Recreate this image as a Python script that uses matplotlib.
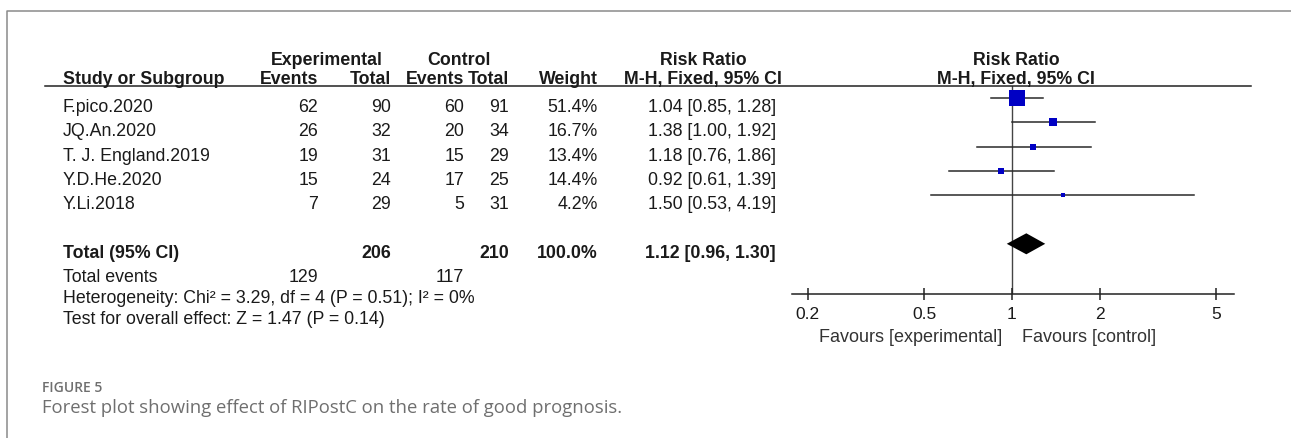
import matplotlib
matplotlib.use("Agg")
import matplotlib.pyplot as plt
from matplotlib.lines import Line2D

plt.rcParams['font.family'] = ['Liberation Sans', 'DejaVu Sans']

studies = ["F.pico.2020", "JQ.An.2020", "T. J. England.2019", "Y.D.He.2020", "Y.Li.2018"]
exp_events = [62, 26, 19, 15, 7]
exp_total = [90, 32, 31, 24, 29]
ctl_events = [60, 20, 15, 17, 5]
ctl_total = [91, 34, 29, 25, 31]
weights = [51.4, 16.7, 13.4, 14.4, 4.2]
rr = [1.04, 1.38, 1.18, 0.92, 1.50]
ci_low = [0.85, 1.00, 0.76, 0.61, 0.53]
ci_high = [1.28, 1.92, 1.86, 1.39, 4.19]

total_exp, total_ctl, total_weight = 206, 210, 100.0
total_rr, total_low, total_high = 1.12, 0.96, 1.30
events_exp, events_ctl = 129, 117
heterogeneity = "Heterogeneity: Chi² = 3.29, df = 4 (P = 0.51); I² = 0%"
overall = "Test for overall effect: Z = 1.47 (P = 0.14)"

xticks = [0.2, 0.5, 1, 2, 5]
xtick_labels = ["0.2", "0.5", "1", "2", "5"]

W, H = 1291, 438
fig = plt.figure(figsize=(W / 100, H / 100), dpi=100)
fig.patch.set_facecolor("white")

def fx(x):
    return x / W

def fy(y):
    return 1 - y / H

def txt(x, y, s, ha="left", bold=False, **kw):
    fig.text(fx(x), fy(y), s, ha=ha, va="baseline", fontsize=12.8,
             fontweight="bold" if bold else "normal", color="#1a1a1a", **kw)

# card border
fig.add_artist(Line2D([fx(7), fx(7), fx(W)], [fy(H), fy(11), fy(11)],
                      color="#8a8a8a", lw=1.1))

# column right edges (pixels)
c_study = 63
c_ee, c_et, c_ce, c_ct, c_w, c_rr = 318, 391, 464, 509, 598, 776
c_plot = 1016

row0, row_h = 98, 24.3
text_off = 14

# headers
txt((262 + 391) / 2, 65, "Experimental", ha="center", bold=True)
txt((408 + 509) / 2, 65, "Control", ha="center", bold=True)
txt(703, 65, "Risk Ratio", ha="center", bold=True)
txt(c_plot, 65, "Risk Ratio", ha="center", bold=True)
txt(c_study, 84, "Study or Subgroup", bold=True)
txt(c_ee, 84, "Events", ha="right", bold=True)
txt(c_et, 84, "Total", ha="right", bold=True)
txt(c_ce, 84, "Events", ha="right", bold=True)
txt(c_ct, 84, "Total", ha="right", bold=True)
txt(c_w, 84, "Weight", ha="right", bold=True)
txt(703, 84, "M-H, Fixed, 95% CI", ha="center", bold=True)
txt(c_plot, 84, "M-H, Fixed, 95% CI", ha="center", bold=True)
fig.add_artist(Line2D([fx(45), fx(1251)], [fy(86), fy(86)], color="#222222", lw=1.1))

# study rows
for i, name in enumerate(studies):
    yb = row0 + row_h * i + text_off
    txt(c_study, yb, name)
    txt(c_ee, yb, str(exp_events[i]), ha="right")
    txt(c_et, yb, str(exp_total[i]), ha="right")
    txt(c_ce, yb, str(ctl_events[i]), ha="right")
    txt(c_ct, yb, str(ctl_total[i]), ha="right")
    txt(c_w, yb, f"{weights[i]:.1f}%", ha="right")
    txt(c_rr, yb, f"{rr[i]:.2f} [{ci_low[i]:.2f}, {ci_high[i]:.2f}]", ha="right")

total_row = len(studies) + 1
yb = row0 + row_h * total_row + text_off
txt(c_study, yb, "Total (95% CI)", bold=True)
txt(c_et, yb, str(total_exp), ha="right", bold=True)
txt(c_ct, yb, str(total_ctl), ha="right", bold=True)
txt(c_w, yb, f"{total_weight:.1f}%", ha="right", bold=True)
txt(c_rr, yb, f"{total_rr:.2f} [{total_low:.2f}, {total_high:.2f}]", ha="right", bold=True)

txt(c_study, 282, "Total events")
txt(c_ee, 282, str(events_exp), ha="right")
txt(c_ce, 282, str(events_ctl), ha="right")
txt(c_study, 303, heterogeneity)
txt(c_study, 324, overall)

# forest panel
ax_left, ax_right, ax_top, ax_bottom = 792, 1234, 86, 294
ax = fig.add_axes([fx(ax_left), fy(ax_bottom), (ax_right - ax_left) / W,
                   (ax_bottom - ax_top) / H])
ax.set_xscale("log")
ax.set_xlim(0.1765, 5.76)
ax.set_ylim((ax_bottom - row0) / row_h, (ax_top - row0) / row_h)
ax.patch.set_alpha(0)

ax.axvline(1, color="#444444", lw=1.0, zorder=1)
for i in range(len(studies)):
    ax.plot([ci_low[i], ci_high[i]], [i, i], color="#2a2a2a", lw=1.1, zorder=2)
    side = 3.3 + 0.247 * weights[i]
    ax.plot(rr[i], i, marker="s", markersize=side * 0.72, color="#0000c4",
            markeredgewidth=0, zorder=3)

dh = 10.5 / row_h
ax.fill([total_low, total_rr, total_high, total_rr],
        [total_row, total_row - dh, total_row, total_row + dh],
        color="black", lw=0, zorder=3)

for s in ["top", "left", "right"]:
    ax.spines[s].set_visible(False)
ax.spines["bottom"].set_color("#222222")
ax.spines["bottom"].set_linewidth(1.1)
ax.set_yticks([])
ax.set_xticks(xticks)
ax.set_xticklabels(xtick_labels)
ax.minorticks_off()
ax.tick_params(axis="x", direction="inout", length=9, width=1.1, color="#222222",
               pad=5.2, labelsize=12.5, labelcolor="#1a1a1a")

ax.annotate("Favours [experimental]", xy=(1, 0), xycoords=("data", "axes fraction"),
            xytext=(-10, -43), textcoords="offset pixels", ha="right", va="center",
            fontsize=13, color="#333333")
ax.annotate("Favours [control]", xy=(1, 0), xycoords=("data", "axes fraction"),
            xytext=(10, -43), textcoords="offset pixels", ha="left", va="center",
            fontsize=13, color="#333333")

# caption
fig.text(fx(42), fy(388), "FIGURE 5", family=["Open Sans", "DejaVu Sans"],
         fontsize=10, fontweight="semibold", color="#6f6f6f", va="center")
fig.text(fx(42), fy(408), "Forest plot showing effect of RIPostC on the rate of good prognosis.",
         family=["Open Sans", "DejaVu Sans"], fontsize=13.3, color="#6f6f6f", va="center")

fig.savefig("out.png", dpi=100)
